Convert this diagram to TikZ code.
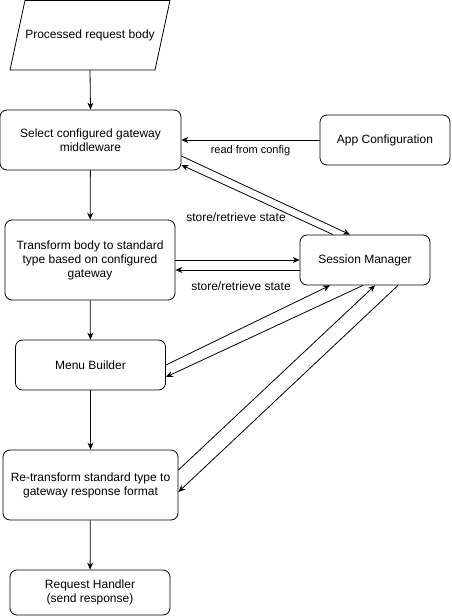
\documentclass[tikz,border=0pt]{standalone}
\usepackage{fontspec}
\setmainfont{Liberation Sans}
\usetikzlibrary{arrows.meta}

\tikzset{
  stepbox/.style={draw, rounded corners=7pt, align=center, font=\fontsize{12}{14}\selectfont},
  flow/.style={-{Stealth[length=7pt,width=6pt]}},
  lbl/.style={font=\fontsize{11}{13}\selectfont},
  biglbl/.style={font=\fontsize{12}{14}\selectfont}
}

\begin{document}
\begin{tikzpicture}[x=1pt, y=1pt, line width=0.8pt]
  \useasboundingbox (0,0) rectangle (451,-616);

  % input
  \draw (25,-0.5) -- (170,-0.5) -- (155,-70) -- (10,-70) -- cycle;
  \node[font=\fontsize{12}{14}\selectfont] (body) at (90,-35) {Processed request body};

  % main column
  \node[stepbox, minimum width=181, minimum height=60] (sel) at (90.5,-140) {Select configured gateway\\middleware};
  \node[stepbox, minimum width=170, minimum height=80] (xform) at (90,-260) {Transform body to standard\\type based on configured\\gateway};
  \node[stepbox, minimum width=150, minimum height=50] (menu) at (90.5,-365) {Menu Builder};
  \node[stepbox, minimum width=175, minimum height=70] (retr) at (90.5,-485) {Re-transform standard type to\\gateway response format};
  \node[stepbox, minimum width=160, minimum height=45] (hand) at (90,-592.5) {Request Handler\\(send response)};

  % side boxes
  \node[stepbox, minimum width=130, minimum height=50] (cfg) at (385,-140) {App Configuration};
  \node[stepbox, minimum width=130, minimum height=50] (sess) at (365,-260) {Session Manager};

  \draw[flow] (body.south |- 0,-70) -- (sel.north);
  \draw[flow] (sel) -- (xform);
  \draw[flow] (xform) -- (menu);
  \draw[flow] (menu) -- (retr);
  \draw[flow] (retr) -- (hand);

  \draw[flow] (cfg.west) -- node[lbl, below=2pt] {read from config} (sel.east);

  \draw[flow] ([yshift=-16]sel.east) -- ([xshift=-15]sess.north);
  \draw[flow] ([xshift=-32]sess.north) -- ([yshift=-25]sel.east);
  \node[biglbl] (lblA) at (236,-217) {store/retrieve state};

  \draw[flow] (xform.east) -- (sess.west);
  \draw[flow] ([yshift=-10]sess.west) -- ([yshift=-10]xform.east);
  \node[biglbl] (lblB) at (241,-286) {store/retrieve state};

  \draw[flow] (menu.east) -- ([xshift=-35]sess.south);
  \draw[flow] ([xshift=-2]sess.south) -- ([yshift=-12]menu.east);

  \draw[flow] ([yshift=15]retr.east) -- ([xshift=10]sess.south);
  \draw[flow] ([xshift=33]sess.south) -- ([yshift=-7]retr.east);
\end{tikzpicture}
\end{document}
